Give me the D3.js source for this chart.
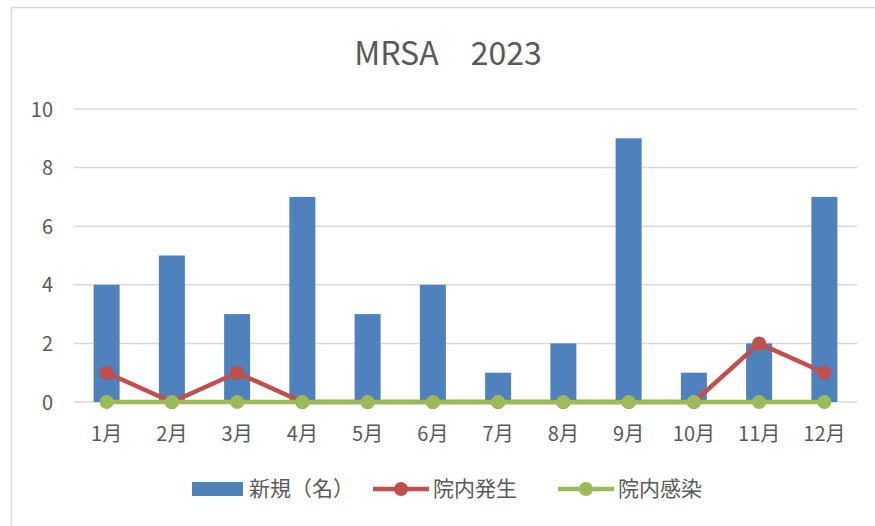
<!DOCTYPE html>
<html>
<head>
<meta charset="utf-8">
<script src="https://cdn.jsdelivr.net/npm/d3@7/dist/d3.min.js"></script>
<style>
  body { margin: 0; background: #fff; }
  text { font-family: "Noto Sans CJK JP", "Open Sans", sans-serif; fill: #595959; }
</style>
</head>
<body>
<script>
var months = ["1月", "2月", "3月", "4月", "5月", "6月", "7月", "8月", "9月", "10月", "11月", "12月"];
var newCases = [4, 5, 3, 7, 3, 4, 1, 2, 9, 1, 2, 7];
var hospitalOnset = [1, 0, 1, 0, 0, 0, 0, 0, 0, 0, 2, 1];
var hospitalInfection = [0, 0, 0, 0, 0, 0, 0, 0, 0, 0, 0, 0];
var yTicks = [0, 2, 4, 6, 8, 10];
var seriesNames = ["新規（名）", "院内発生", "院内感染"];

var width = 875, height = 526;
var margin = { top: 109, right: 18, bottom: 124, left: 74 };

var svg = d3.select("body").append("svg")
    .attr("width", width)
    .attr("height", height);

// chart border
svg.append("rect")
    .attr("x", 11.5).attr("y", 7.5)
    .attr("width", width).attr("height", height)
    .attr("fill", "none")
    .attr("stroke", "#d9d9d9")
    .attr("stroke-width", 1.5);

var x = d3.scaleBand()
    .domain(months)
    .range([margin.left, width - margin.right]);

var y = d3.scaleLinear()
    .domain([0, 10])
    .range([height - margin.bottom, margin.top]);

// gridlines
svg.append("g")
    .selectAll("line")
    .data(yTicks)
    .join("line")
    .attr("x1", margin.left).attr("x2", width - margin.right)
    .attr("y1", d => y(d)).attr("y2", d => y(d))
    .attr("stroke", "#d9d9d9")
    .attr("stroke-width", 1.5);

var yAxis = svg.append("g")
    .attr("transform", "translate(" + (margin.left - 21) + ",0)")
    .call(d3.axisLeft(y).tickValues(yTicks).tickSize(0).tickPadding(0));
yAxis.select(".domain").remove();
yAxis.selectAll("text").style("font-size", "20px").attr("dy", "0.35em");

var xAxis = svg.append("g")
    .attr("transform", "translate(0," + y(0) + ")")
    .call(d3.axisBottom(x).tickSize(0).tickPadding(0));
xAxis.select(".domain").remove();
xAxis.selectAll("text").style("font-size", "20px").attr("dy", "1.95em");

// bars
var barW = 26;
svg.append("g")
    .selectAll("rect")
    .data(newCases)
    .join("rect")
    .attr("x", (d, i) => x(months[i]) + x.bandwidth() / 2 - barW / 2)
    .attr("y", d => y(d))
    .attr("width", barW)
    .attr("height", d => y(0) - y(d))
    .attr("fill", "#4f81bd");

function drawLine(values, color) {
    var line = d3.line()
        .x((d, i) => x(months[i]) + x.bandwidth() / 2)
        .y(d => y(d));
    svg.append("path")
        .datum(values)
        .attr("d", line)
        .attr("fill", "none")
        .attr("stroke", color)
        .attr("stroke-width", 4.5)
        .attr("stroke-linejoin", "round");
    svg.append("g")
        .selectAll("circle")
        .data(values)
        .join("circle")
        .attr("cx", (d, i) => x(months[i]) + x.bandwidth() / 2)
        .attr("cy", d => y(d))
        .attr("r", 7)
        .attr("fill", color);
}
drawLine(hospitalOnset, "#c0504d");
drawLine(hospitalInfection, "#9bbb59");

// title
svg.append("text")
    .attr("x", 448).attr("y", 65)
    .attr("text-anchor", "middle")
    .style("font-size", "32px")
    .text("MRSA　2023");

// legend
var ly = 489;
var legend = svg.append("g");
legend.append("rect")
    .attr("x", 192).attr("y", ly - 7)
    .attr("width", 51).attr("height", 14)
    .attr("fill", "#4f81bd");
legend.append("text").attr("x", 249).attr("y", ly).attr("dy", "0.35em")
    .style("font-size", "21px").text(seriesNames[0]);

[[373, "#c0504d", seriesNames[1]], [558, "#9bbb59", seriesNames[2]]].forEach(function (s) {
    legend.append("line")
        .attr("x1", s[0]).attr("x2", s[0] + 56)
        .attr("y1", ly).attr("y2", ly)
        .attr("stroke", s[1]).attr("stroke-width", 4.5);
    legend.append("circle")
        .attr("cx", s[0] + 28).attr("cy", ly).attr("r", 7)
        .attr("fill", s[1]);
    legend.append("text").attr("x", s[0] + 60).attr("y", ly).attr("dy", "0.35em")
        .style("font-size", "21px").text(s[2]);
});
</script>
</body>
</html>
